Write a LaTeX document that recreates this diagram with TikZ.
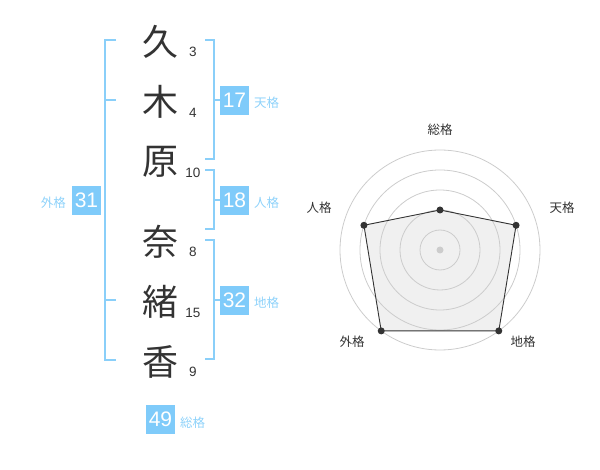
\documentclass[tikz,border=0pt]{standalone}
\usepackage{fontspec}
\setmainfont{Liberation Sans}
\newfontfamily\cjk{Noto Sans CJK JP}
\definecolor{boxblue}{HTML}{7FCBFA}
\definecolor{lblblue}{HTML}{8ED2FA}
\definecolor{brblue}{HTML}{8ACFF9}
\definecolor{ink}{HTML}{333333}
\definecolor{ring}{HTML}{CCCCCC}
\definecolor{polyfill}{HTML}{F0F0F0}
\begin{document}
\begin{tikzpicture}[x=1pt,y=-1pt,
  kanji/.style={font=\cjk\fontsize{36}{36}\selectfont, text=ink, inner sep=0pt},
  stroke/.style={font=\fontsize{13.5}{13.5}\selectfont, text=ink, inner sep=0pt},
  valbox/.style={fill=boxblue, text=white, minimum width=29pt, minimum height=29pt, inner sep=0pt, font=\fontsize{21}{21}\selectfont},
  vallbl/.style={font=\cjk\fontsize{12.5}{12.5}\selectfont, text=lblblue, inner sep=0pt},
  bracket/.style={draw=brblue, line width=1.6pt},
  ringline/.style={draw=ring, line width=0.8pt},
  axlbl/.style={font=\cjk\fontsize{12.5}{12.5}\selectfont, text=ink, inner sep=0pt},
  dot/.style={circle, fill=ink, inner sep=0pt, minimum size=7pt}
]
\useasboundingbox (0,0) rectangle (600,470);
% characters
\node[kanji] (c1) at (160,42) {久};
\node[kanji] (c2) at (160,102) {木};
\node[kanji] (c3) at (160,162) {原};
\node[kanji] (c4) at (160,242) {奈};
\node[kanji] (c5) at (160,302) {緒};
\node[kanji] (c6) at (160,362) {香};
% stroke counts
\node[stroke] (s1) at (193,52) {3};
\node[stroke] (s2) at (193,113) {4};
\node[stroke] (s3) at (193,173) {10};
\node[stroke] (s4) at (193,252) {8};
\node[stroke] (s5) at (193,313) {15};
\node[stroke] (s6) at (193,372) {9};
% brackets
\draw[bracket] (116,40) -- (105,40) -- (105,360) -- (116,360);
\draw[bracket] (105,100) -- (116,100);
\draw[bracket] (105,300) -- (116,300);
\draw[bracket] (205,40) -- (214,40) -- (214,159) -- (205,159);
\draw[bracket] (214,100) -- (222,100);
\draw[bracket] (205,170) -- (214,170) -- (214,229) -- (205,229);
\draw[bracket] (214,200) -- (222,200);
\draw[bracket] (205,240) -- (214,240) -- (214,359) -- (205,359);
\draw[bracket] (214,300) -- (222,300);
% value boxes
\node[valbox] (ten) at (234.5,100.5) {17};
\node[vallbl, anchor=west] (tenl) at (254,103) {天格};
\node[valbox] (jin) at (234.5,200.5) {18};
\node[vallbl, anchor=west] (jinl) at (254,203) {人格};
\node[valbox] (chi) at (234.5,300.5) {32};
\node[vallbl, anchor=west] (chil) at (254,303) {地格};
\node[valbox] (gai) at (86.5,200.5) {31};
\node[vallbl, anchor=east] (gail) at (66,203) {外格};
\node[valbox] (sou) at (160.5,419.5) {49};
\node[vallbl, anchor=west] (soul) at (180,423) {総格};
% radar
\coordinate (o) at (440,250);
\coordinate (pS) at (440,210);
\coordinate (pT) at (516.08,225.28);
\coordinate (pC) at (498.78,330.90);
\coordinate (pG) at (381.22,330.90);
\coordinate (pJ) at (363.92,225.28);
\fill[polyfill] (pS) -- (pT) -- (pC) -- (pG) -- (pJ) -- cycle;
\foreach \r in {20,40,60,80,100} \draw[ringline] (o) circle[radius=\r];
\fill[ring] (o) circle[radius=3.5];
\draw[ink, line width=0.9pt, line join=round] (pS) -- (pT) -- (pC) -- (pG) -- (pJ) -- cycle;
\foreach \p in {pS,pT,pC,pG,pJ} \node[dot] at (\p) {};
\node[axlbl] (lS) at (440,130) {総格};
\node[axlbl] (lT) at (562,208) {天格};
\node[axlbl] (lJ) at (319,208) {人格};
\node[axlbl] (lG) at (352,342) {外格};
\node[axlbl] (lC) at (523,342) {地格};
\end{tikzpicture}
\end{document}
